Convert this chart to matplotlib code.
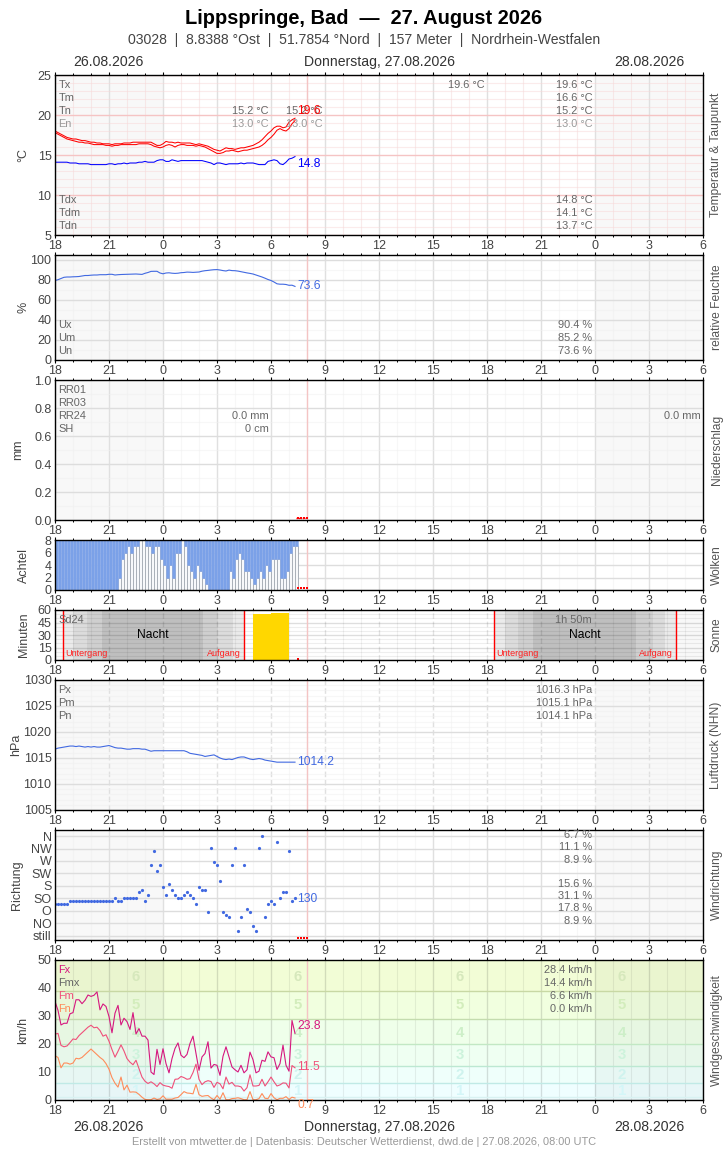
import matplotlib
matplotlib.use("Agg")
import matplotlib.pyplot as plt
import numpy as np

plt.rcParams['font.family'] = ['Liberation Sans', 'DejaVu Sans']

W, H = 728, 1150
PX = 0.72  # px to pt at dpi 100

# time axis, hours after 18:00, one reading every 10 minutes
t = np.arange(81) / 6
hour_labels = ['18', '21', '0', '3', '6', '9', '12', '15', '18', '21', '0', '3', '6']

temp_high = [18.0, 17.8, 17.6, 17.4, 17.2, 17.1, 17.0, 17.0, 16.9, 16.8, 16.8, 16.7,
             16.6, 16.6, 16.5, 16.5, 16.4, 16.4, 16.4, 16.3, 16.4, 16.4, 16.4, 16.5,
             16.5, 16.5, 16.6, 16.6, 16.6, 16.6, 16.6, 16.6, 16.6, 16.4, 16.2, 16.2,
             16.4, 16.7, 16.6, 16.6, 16.5, 16.6, 16.5, 16.5, 16.5, 16.5, 16.4, 16.3,
             16.4, 16.3, 16.2, 16.1, 15.9, 15.7, 15.6, 15.5, 15.7, 15.9, 15.8, 15.8,
             15.7, 15.8, 15.9, 15.9, 16.0, 16.1, 16.2, 16.4, 16.6, 16.9, 17.3, 17.7,
             18.0, 18.4, 18.6, 18.6, 18.4, 18.5, 19.1, 19.4, 19.6]
temp_low = [17.8, 17.6, 17.4, 17.2, 17.0, 16.9, 16.8, 16.7, 16.6, 16.6, 16.5, 16.5,
            16.4, 16.3, 16.3, 16.3, 16.3, 16.2, 16.2, 16.1, 16.2, 16.2, 16.3, 16.3,
            16.3, 16.3, 16.3, 16.3, 16.4, 16.4, 16.4, 16.4, 16.3, 16.1, 16.0, 15.9,
            16.0, 16.2, 16.3, 16.2, 16.0, 16.2, 16.3, 16.3, 16.2, 16.2, 16.2, 16.1,
            16.2, 16.1, 16.0, 15.8, 15.6, 15.4, 15.2, 15.2, 15.3, 15.5, 15.5, 15.6,
            15.5, 15.4, 15.5, 15.6, 15.6, 15.7, 15.8, 15.9, 16.0, 16.2, 16.5, 16.9,
            17.2, 17.6, 18.1, 18.3, 18.1, 18.0, 18.3, 18.9, 19.3]
dew = [14.1, 14.1, 14.1, 14.1, 14.1, 14.0, 14.0, 14.0, 13.9, 13.9, 13.9, 13.9,
       13.8, 13.8, 13.8, 13.8, 13.8, 13.8, 13.9, 13.9, 13.8, 13.9, 13.9, 14.0,
       13.9, 14.0, 14.0, 14.0, 14.1, 14.1, 14.2, 14.1, 14.1, 14.1, 14.3, 14.4,
       14.4, 14.2, 14.2, 14.4, 14.3, 14.2, 14.3, 14.3, 14.3, 14.3, 14.3, 14.3,
       14.3, 14.3, 14.2, 14.1, 14.0, 13.8, 14.0, 14.0, 13.9, 13.8, 13.9, 13.9,
       13.9, 13.9, 14.0, 13.9, 14.0, 14.0, 14.0, 13.9, 13.8, 13.8, 13.8, 14.2,
       14.3, 14.4, 14.3, 13.9, 13.8, 14.1, 14.5, 14.6, 14.8]
humidity = [79.5, 80.3, 81.5, 82.7, 83.0, 83.0, 83.2, 83.3, 83.5, 84.0, 84.5, 84.5,
            84.8, 85.0, 85.0, 85.3, 85.3, 85.3, 85.7, 85.7, 85.0, 85.3, 85.5, 85.6,
            85.7, 85.8, 85.9, 86.0, 85.8, 85.6, 86.7, 87.5, 88.6, 88.7, 88.7, 87.0,
            86.2, 87.0, 87.2, 86.8, 86.6, 86.8, 87.3, 87.5, 87.9, 87.8, 87.6, 87.8,
            88.0, 88.8, 89.3, 89.6, 90.0, 90.3, 90.4, 90.0, 89.4, 89.0, 89.9, 89.4,
            89.3, 88.9, 88.3, 87.7, 87.1, 86.6, 86.0, 85.0, 84.0, 83.0, 81.8, 80.5,
            79.5, 78.0, 76.2, 75.8, 75.8, 75.5, 74.7, 74.8, 73.6]
clouds = [0, 0, 0, 0, 0, 0, 0, 0, 0, 0, 0, 0, 0, 0, 0, 0, 0, 0, 0, 0, 0,
          2, 5, 6, 7, 6, 7, 7, 8, 8, 7, 7, 6, 7, 7, 5, 4, 2, 4, 2, 6, 6, 8, 7,
          4, 3, 2, 4, 3, 2, 1, 0, 0, 0, 0, 0, 0, 0, 3, 2, 5, 6, 5, 3, 3, 2, 1,
          2, 3, 2, 4, 3, 5, 5, 5, 2, 2, 3, 6, 7, 7]
sun_hours = [11, 12]
sun_minutes = [55, 57]
pressure = [1016.7, 1016.9, 1017.0, 1017.1, 1017.2, 1017.3, 1017.3, 1017.2, 1017.3, 1017.2, 1017.1, 1017.2,
            1017.1, 1017.2, 1017.1, 1017.1, 1017.2, 1017.3, 1017.4, 1017.2, 1017.0, 1016.9, 1016.9, 1016.8,
            1016.7, 1016.7, 1016.8, 1016.8, 1016.8, 1016.7, 1016.7, 1016.5, 1016.3, 1016.4, 1016.4, 1016.4,
            1016.4, 1016.4, 1016.4, 1016.4, 1016.4, 1016.4, 1016.4, 1016.4, 1016.2, 1015.9, 1015.8, 1015.7,
            1015.6, 1015.5, 1015.3, 1015.4, 1015.5, 1015.6, 1015.3, 1015.0, 1014.8, 1014.7, 1014.8, 1014.7,
            1014.9, 1015.1, 1015.2, 1015.2, 1015.0, 1014.8, 1014.7, 1014.8, 1014.9, 1014.8, 1014.6, 1014.5,
            1014.4, 1014.3, 1014.2, 1014.2, 1014.2, 1014.2, 1014.2, 1014.2, 1014.2]
direction = [115, 115, 115, 115, 115, 125, 125, 125, 125, 125, 125, 125, 125, 125, 125, 125, 125, 125, 125, 125,
             136, 125, 125, 136, 136, 136, 136, 136, 156, 165, 125, 146, 255, 306, 235, 255, 176, 146, 186, 165,
             146, 136, 136, 146, 156, 146, 136, 115, 176, 165, 165, 85, 316, 265, 255, 196, 85, 75, 66, 255,
             316, 15, 66, 255, 95, 85, 35, 15, 316, 360, 66, 115, 125, 115, 337, 136, 156, 156, 306, 125, 136]
wind_max = [35.2, 32.0, 26.8, 27.4, 27.4, 30.8, 31.2, 35.8, 35.8, 34.4, 35.6, 37.5,
            37.0, 37.4, 38.6, 32.2, 34.3, 33.4, 29.8, 24.0, 31.0, 33.8, 26.8, 29.2,
            28.0, 25.2, 31.2, 23.6, 25.5, 22.8, 22.8, 21.4, 10.0, 9.1, 18.1, 12.7,
            18.3, 13.0, 9.7, 14.8, 18.4, 20.4, 16.0, 15.1, 16.3, 20.2, 22.8, 16.6,
            10.6, 15.4, 16.6, 20.8, 11.4, 12.7, 12.4, 8.8, 15.6, 19.0, 15.4, 11.8,
            10.8, 10.0, 12.4, 9.7, 10.8, 17.1, 14.4, 9.7, 10.3, 14.2, 13.8, 17.2,
            15.4, 15.1, 10.9, 13.0, 19.6, 12.4, 10.3, 28.4, 23.8]
wind_mean = [23.5, 23.8, 19.5, 19.0, 19.3, 20.5, 21.8, 21.6, 23.0, 24.0, 25.0, 26.0,
             26.7, 25.8, 26.0, 24.8, 22.8, 23.3, 21.0, 18.0, 15.3, 17.4, 19.7, 17.5,
             14.8, 13.5, 12.6, 14.2, 11.2, 8.2, 6.7, 5.9, 6.5, 5.8, 4.8, 6.2,
             5.3, 5.0, 4.8, 4.2, 7.4, 7.5, 8.4, 8.0, 7.4, 7.6, 9.8, 12.8,
             7.4, 5.5, 6.5, 6.9, 6.6, 4.5, 6.3, 5.8, 4.0, 8.2, 5.7, 6.3,
             5.0, 5.0, 4.7, 3.2, 4.4, 9.0, 5.0, 5.0, 5.2, 7.4, 5.0, 6.5,
             8.2, 6.5, 5.0, 5.4, 6.1, 6.0, 4.3, 12.3, 11.5]
wind_min = [15.8, 15.2, 11.5, 13.2, 13.2, 12.8, 13.2, 14.9, 14.7, 15.2, 16.2, 17.2,
            18.2, 17.2, 16.2, 15.2, 14.4, 13.0, 11.0, 8.0, 6.0, 4.6, 8.2, 3.6,
            5.3, 2.8, 2.9, 2.8, 2.0, 1.0, 0.2, 0.1, 0.1, 0.7, 0.2, 0.4,
            1.5, 0.3, 0.3, 0.3, 0.7, 0.9, 1.9, 3.0, 2.5, 2.4, 2.2, 5.6,
            1.9, 1.3, 1.5, 1.6, 0.7, 0.1, 1.6, 0.3, 2.6, 0.1, 0.1, 0.5,
            0.6, 0.8, 0.5, 0.1, 0.1, 3.0, 0.1, 0.1, 0.5, 2.3, 0.6, 0.5,
            2.3, 0.8, 0.1, 0.6, 0.6, 1.2, 0.2, 1.0, 0.7]

# readings still missing up to "now"
missing_t = [13.5, 13.67, 13.83, 14.0]
now_hour = 14

night_edges_1 = [0.46, 1.02, 1.8, 2.6, 8.24, 9.08, 9.9, 10.5]
night_edges_2 = [24.4, 25.0, 25.75, 26.55, 32.3, 33.2, 33.9, 34.5]
night_grays = ['#ebebeb', '#dcdcdc', '#cfcfcf', '#bfbfbf', '#cfcfcf', '#dcdcdc', '#ebebeb']

bft_edges = [0, 1, 6, 12, 20, 29, 39, 50]
bft_fill = ['#f0fdff', '#effeff', '#effffb', '#effff2', '#efffea', '#f1ffdf', '#f2fdd6']
bft_lines = ['#d8f2f2', '#c0eae6', '#bce8d2', '#c2e8c4', '#c4dcae', '#c8d8a4']
bft_label_y = [3.3, 8.8, 16.0, 24.0, 34.0, 44.0]
bft_label_x = [4.5, 13.5, 22.5, 31.5]
bft_label_col = ['#d4f6f8', '#cff3ee', '#cdf3dc', '#cdefc8', '#d3edbc', '#d6e8bc']

dir_ticks = [0, 45, 90, 135, 180, 225, 270, 315, 360]
dir_labels = ['still', 'NO', 'O', 'SO', 'S', 'SW', 'W', 'NW', 'N']

fig = plt.figure(figsize=(W / 100, H / 100), dpi=100, facecolor='white')


def txt(x, y, s, size=11, color='#666666', ha='left', va='center', **kw):
    fig.text(x / W, 1 - y / H, s, fontsize=size * PX, color=color, ha=ha, va=va, **kw)


def panel(top, bottom, ylim, ticks, minor=None, hcol='#dddddd', hminor='#f0f0f0',
          vcol='#e0e0e0', vminor='#f0f0f0', vstyle='-', shade=True, halpha=1.0, valpha=1.0):
    ax = fig.add_axes([55 / W, 1 - bottom / H, 648 / W, (bottom - top) / H])
    ax.set_xlim(0, 36)
    ax.set_ylim(*ylim)
    if shade:
        ax.axvspan(0, 6, color='#f8f8f8', lw=0, zorder=0)
        ax.axvspan(30, 36, color='#f8f8f8', lw=0, zorder=0)
    ax.set_xticks(np.arange(0, 37, 3))
    ax.set_xticklabels(hour_labels)
    ax.set_xticks(np.arange(0, 37), minor=True)
    ax.set_yticks(ticks)
    if minor is not None:
        ax.set_yticks(minor, minor=True)
    ax.grid(True, which='major', axis='y', color=hcol, alpha=halpha, lw=1.0)
    ax.grid(True, which='minor', axis='y', color=hminor, alpha=halpha * 0.5, lw=0.8)
    ax.grid(True, which='major', axis='x', color=vcol, alpha=valpha, lw=1.0, ls=vstyle)
    ax.grid(True, which='minor', axis='x', color=vminor, alpha=valpha * 0.5, lw=0.8)
    ax.axvline(now_hour, color='#f4c4c4', lw=1.0, zorder=1.5)
    ax.set_axisbelow(True)
    ax.tick_params(axis='x', which='major', top=True, bottom=True, direction='out', length=2.5,
                   width=0.8, labelsize=12.5 * PX, labelcolor='#444444', pad=1.0)
    ax.tick_params(axis='x', which='minor', top=True, bottom=True, direction='out', length=1.5, width=0.7)
    ax.tick_params(axis='y', which='both', length=0, labelsize=12.5 * PX, labelcolor='#444444', pad=2.5)
    for sp in ax.spines.values():
        sp.set_linewidth(1.0)
        sp.set_zorder(6)
    return ax


def side_labels(left_x, y, left, right):
    txt(left_x + 1.5, y, left, size=12.5, color='#444444', ha='center', rotation=90)
    txt(716.5, y, right, size=12, color='#555555', ha='center', rotation=90)


# header
txt(364, 18, 'Lippspringe, Bad  \u2014  27. August 2026', size=20, color='black', ha='center', fontweight='bold')
txt(364, 40, '03028  |  8.8388 \u00b0Ost  |  51.7854 \u00b0Nord  |  157 Meter  |  Nordrhein-Westfalen',
    size=14, color='#444444', ha='center')
for yy in (62, 1127):
    txt(108.5, yy, '26.08.2026', size=14, color='#333333', ha='center')
    txt(379, yy, 'Donnerstag, 27.08.2026', size=14, color='#333333', ha='center')
    txt(649, yy, '28.08.2026', size=14, color='#333333', ha='center')

# temperature
ax = panel(75, 235, (5, 25), np.arange(5, 26, 5), np.arange(5, 26, 1), hcol='#f5c4c4', hminor='#f8d8d8', vminor='#f5d8d8')
ax.plot(t, temp_high, color='#ff0000', lw=0.75, zorder=3)
ax.plot(t, temp_low, color='#ff0000', lw=0.75, zorder=3)
ax.plot(t, dew, color='#0000ff', lw=0.75, zorder=3)
side_labels(22, 155, '\u00b0C', 'Temperatur & Taupunkt')
for yy, s, c in [(85, 'Tx', '#666666'), (98, 'Tm', '#666666'), (111, 'Tn', '#666666'), (124, 'En', '#999999'),
                 (200, 'Tdx', '#666666'), (213, 'Tdm', '#666666'), (226, 'Tdn', '#666666')]:
    txt(58.5, yy, s, color=c)
for yy, s, c in [(85, '19.6 \u00b0C', '#666666'), (98, '16.6 \u00b0C', '#666666'), (111, '15.2 \u00b0C', '#666666'),
                 (124, '13.0 \u00b0C', '#999999'), (200, '14.8 \u00b0C', '#666666'), (213, '14.1 \u00b0C', '#666666'),
                 (226, '13.7 \u00b0C', '#666666')]:
    txt(593, yy, s, color=c, ha='right')
txt(485, 85, '19.6 \u00b0C', ha='right')
for xx in (269, 323):
    txt(xx, 111, '15.2 \u00b0C', ha='right')
    txt(xx, 124, '13.0 \u00b0C', ha='right', color='#999999')
txt(297, 111, '19.6', size=12, color='#ff0000')
txt(297, 164, '14.8', size=12, color='#0000ff')

# humidity
ax = panel(255, 360, (0, 105), np.arange(0, 101, 20), np.arange(0, 101, 10))
ax.plot(t, humidity, color='#4169e1', lw=0.8, zorder=3)
side_labels(22, 307, '%', 'relative Feuchte')
for yy, a, b in [(325, 'Ux', '90.4 %'), (338, 'Um', '85.2 %'), (351, 'Un', '73.6 %')]:
    txt(58.5, yy, a)
    txt(592, yy, b, ha='right')
txt(297, 286, '73.6', size=12, color='#4169e1')

# precipitation
ax = panel(380, 520, (0, 1), np.arange(0, 1.01, 0.2), np.arange(0, 1.01, 0.1))
ax.set_yticklabels(['0.0', '0.2', '0.4', '0.6', '0.8', '1.0'])
ax.plot(missing_t, [0.012] * 4, ls='', marker='s', ms=1.6, color='#ff0000', mew=0, zorder=4)
ax.plot([13.4, 13.9], [0.012, 0.012], color='#ff0000', lw=1.0, ls=(0, (1, 0.5)), zorder=4)
side_labels(17, 450, 'mm', 'Niederschlag')
for yy, s in [(390, 'RR01'), (403, 'RR03'), (416, 'RR24'), (429, 'SH')]:
    txt(58.5, yy, s)
txt(269, 416, '0.0 mm', ha='right')
txt(269, 429, '0 cm', ha='right')
txt(701, 416, '0.0 mm', ha='right')

# clouds: white up to the value, blue above it
ax = panel(540, 590, (0, 8), np.arange(0, 9, 2), shade=False)
ax.grid(False, which='minor', axis='y')
ax.bar(t, clouds, width=1 / 6, align='edge', color='#f8f9fb', edgecolor='#aab0b8', lw=0.7, zorder=3)
ax.bar(t, 8 - np.array(clouds), bottom=clouds, width=1 / 6, align='edge', color='#7ba1e8',
       edgecolor='#8fade9', lw=0.4, zorder=3)
ax.plot(missing_t, [0.25] * 4, ls='', marker='s', ms=1.8, color='#ff0000', mew=0, zorder=4)
side_labels(22, 565, 'Achtel', 'Wolken')

# sun and night
ax = panel(610, 660, (0, 60), np.arange(0, 61, 15), np.arange(0, 61, 5), hcol='black', hminor='black',
           vcol='black', vminor='black', vstyle=(0, (4, 2)), shade=True, halpha=0.13, valpha=0.11)
for edges, rise_txt, nacht_x in [(night_edges_1, 241, 153), (night_edges_2, 673, 585)]:
    for i, col in enumerate(night_grays):
        ax.axvspan(edges[i], edges[i + 1], color=col, lw=0, zorder=0.5)
    ax.axvline(edges[0], color='#ff0000', lw=1.0, zorder=3)
    ax.axvline(edges[-1], color='#ff0000', lw=1.0, zorder=3)
    txt(55 + edges[0] * 18 + 2, 653, 'Untergang', size=9, color='#ff2020')
    txt(rise_txt, 653, 'Aufgang', size=9, color='#ff2020', ha='right')
    txt(nacht_x, 635, 'Nacht', size=12, color='black', ha='center')
ax.bar(sun_hours, sun_minutes, width=1, align='edge', color='#ffd700', lw=0, zorder=3)
ax.plot([13.5], [1.5], ls='', marker='s', ms=1.8, color='#ff0000', mew=0, zorder=4)
side_labels(22, 635, 'Minuten', 'Sonne')
txt(58.5, 620, 'Sd24')
txt(592, 620, '1h 50m', ha='right')

# pressure
ax = panel(680, 810, (1005, 1030), np.arange(1005, 1031, 5), np.arange(1005, 1031, 1), vstyle=(0, (4, 2)))
ax.plot(t, pressure, color='#4169e1', lw=0.8, zorder=3)
side_labels(15, 745, 'hPa', 'Luftdruck (NHN)')
for yy, a, b in [(690, 'Px', '1016.3 hPa'), (703, 'Pm', '1015.1 hPa'), (716, 'Pn', '1014.1 hPa')]:
    txt(58.5, yy, a)
    txt(592, yy, b, ha='right')
txt(297, 762, '1014.2', size=12, color='#4169e1')

# wind direction
ax = panel(830, 940, (-16, 382), dir_ticks)
ax.set_yticklabels(dir_labels)
ax.plot(t, direction, ls='', marker='o', ms=2.3, color='#4169e1', mew=0, zorder=3)
ax.plot(missing_t, [-9] * 4, ls='', marker='s', ms=1.8, color='#ff0000', mew=0, zorder=4)
side_labels(15, 885, 'Richtung', 'Windrichtung')
for yy, s in [(835, '6.7 %'), (847, '11.1 %'), (860, '8.9 %'), (884, '15.6 %'),
              (896, '31.1 %'), (908, '17.8 %'), (921, '8.9 %')]:
    txt(592, yy, s, ha='right')
txt(297, 899, '130', size=12, color='#4169e1')

# wind speed
ax = panel(960, 1100, (0, 50), np.arange(0, 51, 10), shade=False, hcol='none', hminor='none',
           vcol='black', vminor='black', valpha=0.13)
for i, col in enumerate(bft_fill):
    ax.axhspan(bft_edges[i], bft_edges[i + 1], color=col, lw=0, zorder=0)
    if i < len(bft_lines):
        ax.axhline(bft_edges[i + 1], color=bft_lines[i], lw=1.0, zorder=1)
ax.axvspan(0, 6, color='black', alpha=0.03, lw=0, zorder=0.5)
ax.axvspan(30, 36, color='black', alpha=0.03, lw=0, zorder=0.5)
for xx in bft_label_x:
    for i, yy in enumerate(bft_label_y):
        ax.text(xx, yy, str(i + 1), fontsize=15 * PX, fontweight='bold', color=bft_label_col[i],
                ha='center', va='center', zorder=2)
ax.plot(t, wind_max, color='#d6187f', lw=0.8, zorder=3)
ax.plot(t, wind_mean, color='#f0507a', lw=0.8, zorder=3)
ax.plot(t, wind_min, color='#ff8c5a', lw=0.8, zorder=3)
side_labels(22, 1030, 'km/h', 'Windgeschwindigkeit')
for yy, a, b, c in [(970, 'Fx', '28.4 km/h', '#d6187f'), (983, 'Fmx', '14.4 km/h', '#666666'),
                    (996, 'Fm', '6.6 km/h', '#f0507a'), (1009, 'Fn', '0.0 km/h', '#ff8c5a')]:
    txt(58.5, yy, a, color=c, zorder=8)
    txt(592, yy, b, ha='right', zorder=8)
txt(297, 1026, '23.8', size=12, color='#d6187f', zorder=8)
txt(297, 1067, '11.5', size=12, color='#f0507a', zorder=8)
txt(297, 1105, '0.7', size=12, color='#ff8c5a', zorder=8)

txt(364, 1142, 'Erstellt von mtwetter.de | Datenbasis: Deutscher Wetterdienst, dwd.de | 27.08.2026, 08:00 UTC',
    size=11, color='#999999', ha='center')

fig.savefig('out.png', dpi=100)
